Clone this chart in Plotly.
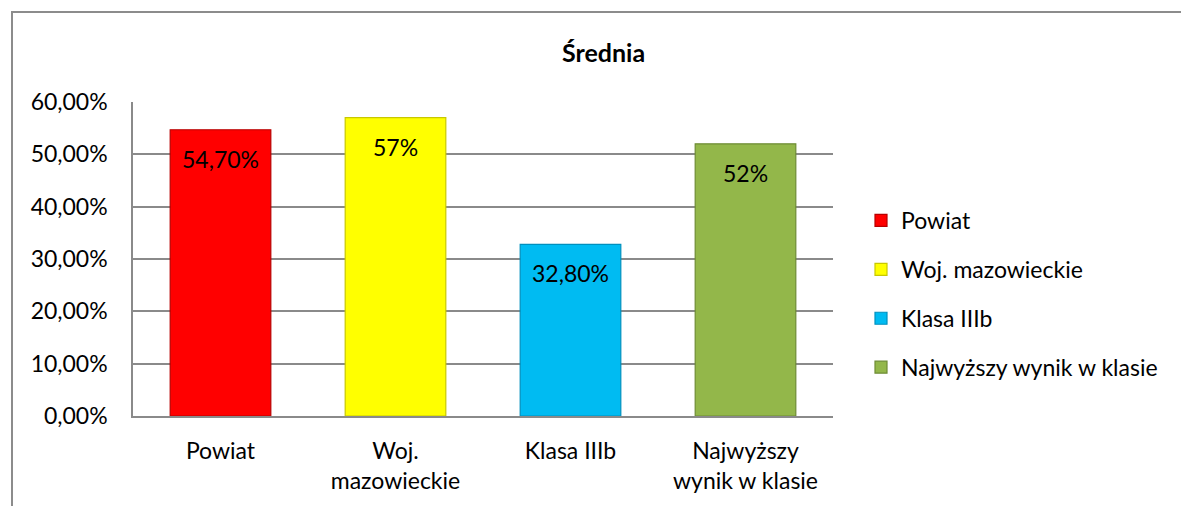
import plotly.graph_objects as go

# Average results ("Średnia") per group
categories = ["Powiat", "Woj. mazowieckie", "Klasa IIIb", "Najwyższy wynik w klasie"]
axis_labels = ["Powiat", "Woj.<br>mazowieckie", "Klasa IIIb", "Najwyższy<br>wynik w klasie"]
values = [0.547, 0.57, 0.328, 0.52]
label_decimals = [2, 0, 2, 0]
y_ticks = [0.0, 0.1, 0.2, 0.3, 0.4, 0.5, 0.6]

fill_colors = ["#FF0000", "#FFFF00", "#00BBF2", "#93B74A"]
edge_colors = ["#B80000", "#C8C800", "#0090BE", "#6E8C34"]

W, H = 1181, 506
FONT = "Lato, 'Open Sans', sans-serif"
FS = 23
GRID = "#8A8A8A"

# plot area in pixels
px_left, px_right, px_top, px_bottom = 133, 833, 102, 416

fig = go.Figure()

for i, name in enumerate(categories):
    fig.add_trace(go.Bar(
        x=[axis_labels[i]],
        y=[values[i]],
        name=name,
        legendgroup=name,
        width=0.575,
        marker=dict(color=fill_colors[i], line=dict(color=edge_colors[i], width=1.2)),
        hoverinfo="skip",
    ))


def fmt_pct(v, d):
    return f"{v * 100:.{d}f}%".replace(".", ",")


annotations = []
for i, v in enumerate(values):
    annotations.append(dict(
        x=axis_labels[i], y=v, xref="x", yref="y",
        text=fmt_pct(v, label_decimals[i]),
        showarrow=False, yanchor="middle", yshift=-29,
        font=dict(family=FONT, size=FS, color="#000000"),
    ))

annotations.append(dict(
    x=603 / W, y=(H - 52) / H, xref="paper", yref="paper",
    text="<b>Średnia</b>", showarrow=False,
    xanchor="center", yanchor="middle",
    font=dict(family=FONT, size=25, color="#000000"),
))

fig.update_layout(
    width=W, height=H,
    margin=dict(l=0, r=0, t=0, b=0),
    paper_bgcolor="white", plot_bgcolor="white",
    barmode="overlay",
    separators=", ",
    font=dict(family=FONT, size=FS, color="#000000"),
    showlegend=True,
    legend=dict(
        x=861 / W, y=(H - 294) / H, xanchor="left", yanchor="middle",
        bgcolor="rgba(0,0,0,0)", tracegroupgap=16,
        font=dict(family=FONT, size=FS, color="#000000"),
    ),
    annotations=annotations,
    shapes=[dict(
        type="rect", xref="paper", yref="paper",
        x0=12 / W, x1=1.05, y0=-0.05, y1=(H - 12) / H,
        line=dict(color="#8C8C8C", width=2), fillcolor="rgba(0,0,0,0)", layer="below",
    )],
    xaxis=dict(
        domain=[px_left / W, px_right / W],
        automargin=False,
        showline=True, linecolor=GRID, linewidth=1.5,
        showgrid=False, ticks="", ticklabelstandoff=14,
        tickfont=dict(family=FONT, size=FS, color="#000000"),
        fixedrange=True,
    ),
    yaxis=dict(
        domain=[(H - px_bottom) / H, (H - px_top) / H],
        automargin=False,
        range=[0, 0.6],
        tickvals=y_ticks, tickformat=".2%",
        showline=True, linecolor=GRID, linewidth=1.5,
        showgrid=True, gridcolor=GRID, gridwidth=1.5,
        zeroline=False, ticks="", ticklabelstandoff=19,
        tickfont=dict(family=FONT, size=FS, color="#000000"),
        fixedrange=True,
    ),
)

fig.write_html("out.html")
